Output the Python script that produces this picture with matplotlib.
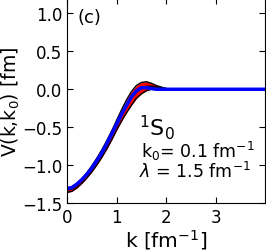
import numpy as np
import matplotlib
matplotlib.use("Agg")
import matplotlib.pyplot as plt

# momentum grid [fm^-1]
k = [0.0, 0.1, 0.2, 0.3, 0.4, 0.5, 0.6, 0.7, 0.8, 0.9, 1.0, 1.1, 1.2, 1.3, 1.4, 1.5, 1.6, 1.7, 1.8, 1.9, 2.0, 2.1, 2.2, 2.4, 3.0, 4.0]
# blue reference curve
v_blue = [-1.31, -1.295, -1.25, -1.19, -1.12, -1.04, -0.94, -0.84, -0.72, -0.59, -0.46, -0.33, -0.21, -0.10, -0.02, 0.02, 0.02, 0.01, 0.0, 0.0, 0.0, 0.0, 0.0, 0.0, 0.0, 0.0]
# band edges (black curves) and a middle black curve
v_upper = [-1.30, -1.285, -1.24, -1.18, -1.10, -1.01, -0.91, -0.80, -0.68, -0.55, -0.41, -0.27, -0.14, -0.03, 0.05, 0.09, 0.10, 0.08, 0.05, 0.03, 0.01, 0.0, 0.0, 0.0, 0.0, 0.0]
v_mid = [-1.33, -1.315, -1.27, -1.21, -1.14, -1.06, -0.96, -0.86, -0.74, -0.61, -0.48, -0.35, -0.23, -0.12, -0.04, 0.02, 0.04, 0.04, 0.03, 0.02, 0.01, 0.0, 0.0, 0.0, 0.0, 0.0]
v_lower = [-1.36, -1.345, -1.30, -1.24, -1.17, -1.09, -1.00, -0.90, -0.79, -0.67, -0.54, -0.42, -0.31, -0.21, -0.12, -0.06, -0.02, 0.0, 0.01, 0.01, 0.0, 0.0, 0.0, 0.0, 0.0, 0.0]

fig = plt.figure(figsize=(2.66, 2.51), dpi=100)
ax = fig.add_axes([0.252, 0.187, 0.745, 0.816])

ax.fill_between(k, v_lower, v_upper, color="red", lw=0)
for v in (v_lower, v_mid, v_upper):
    ax.plot(k, v, color="black", lw=1.0)
ax.plot(k, v_blue, color="blue", lw=2.5)

ax.set_xlim(0, 4.0)
ax.set_ylim(-1.5, 1.2)
ax.set_xticks([0, 1, 2, 3])
ax.set_yticks([-1.5, -1.0, -0.5, 0.0, 0.5, 1.0])
ax.tick_params(direction="in", top=True, right=True, labelsize=12, length=4)

ax.set_xlabel("k [fm$^{-1}$]", fontsize=14.5, labelpad=1)
ax.set_ylabel("V(k,k$_0$) [fm]", fontsize=13.5, labelpad=0)

ax.text(0.22, 0.95, "(c)", fontsize=13, va="center")
ax.text(1.45, -0.60, "$^1$S$_0$", fontsize=16, va="baseline")
ax.text(1.5, -0.80, "k$_0$= 0.1 fm$^{-1}$", fontsize=12.5, va="center")
ax.text(1.45, -1.08, "$\\lambda$ = 1.5 fm$^{-1}$", fontsize=12.5, va="center")

fig.savefig("out.png", dpi=100)
